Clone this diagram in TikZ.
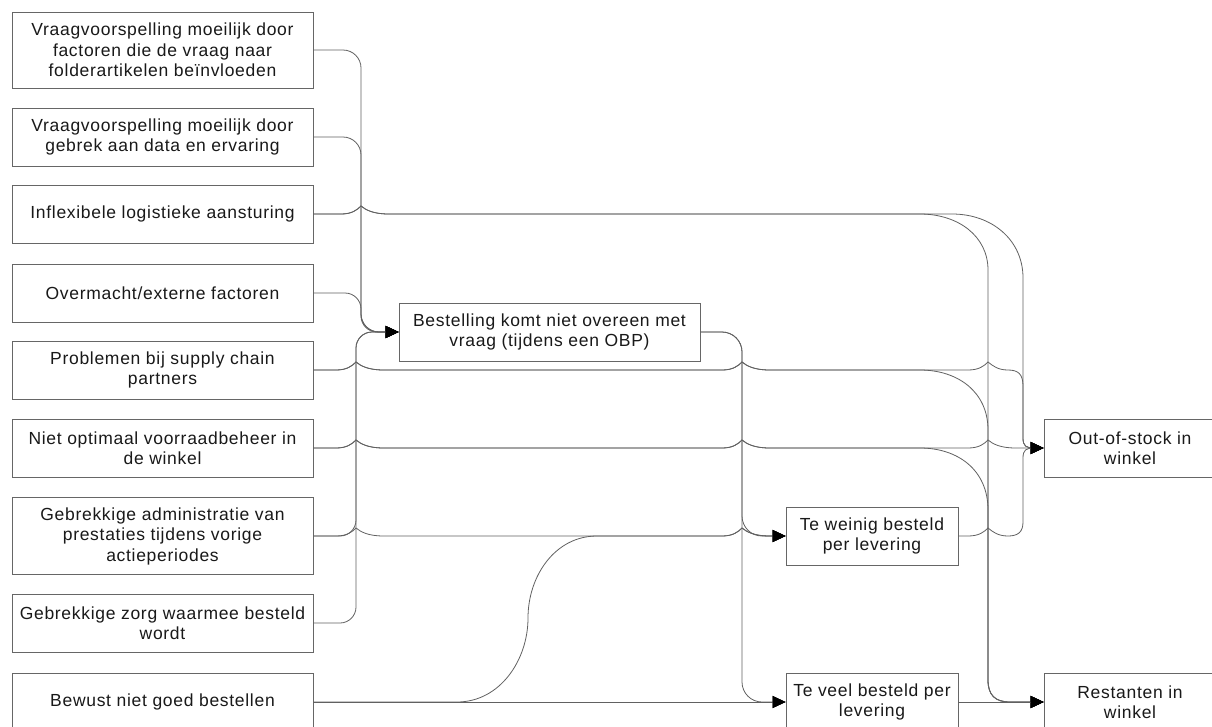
\documentclass[tikz,border=0pt]{standalone}
\usepackage{fontspec}
\setmainfont{Liberation Sans}[LetterSpace=4]
\usetikzlibrary{arrows.meta}
\begin{document}
\begin{tikzpicture}[x=1pt,y=-1pt,
  box/.style={draw=black!60, line width=0.8pt, fill=white, inner sep=0pt,
    align=center, text=black!90, font=\fontsize{17.5}{20.5}\selectfont,
    minimum height=58pt},
  cause/.style={box, minimum width=301pt},
  effect/.style={box, minimum width=172pt},
  link/.style={draw=black!62, line width=0.8pt},
  tip/.style={-{Triangle[length=13pt,width=12pt,color=black]}},
  hop/.style 2 args={insert path={-- ({#1-20},#2)
     .. controls ({#1-9},#2) and ({#1-4},{#2-4}) .. (#1,{#2-8})
     .. controls ({#1+5},{#2-4}) and ({#1+12},#2) .. ({#1+28},#2)}}
]
\useasboundingbox (0,0) rectangle (1212,726);
\clip (0,0) rectangle (1212,726);
\fill[white] (0,0) rectangle (1212,726);

% causes on the left
\node[cause, minimum height=76pt] (b1) at (162.5,50)
  {Vraagvoorspelling moeilijk door\\factoren die de vraag naar\\folderartikelen beïnvloeden};
\node[cause] (b2) at (162.5,137) {Vraagvoorspelling moeilijk door\\gebrek aan data en ervaring};
\node[cause] (b3) at (162.5,214) {Inflexibele logistieke aansturing};
\node[cause] (b4) at (162.5,293) {Overmacht/externe factoren};
\node[cause] (b5) at (162.5,370) {Problemen bij supply chain\\partners};
\node[cause] (b6) at (162.5,448) {Niet optimaal voorraadbeheer in\\de winkel};
\node[cause, minimum height=77pt] (b7) at (162.5,536)
  {Gebrekkige administratie van\\prestaties tijdens vorige\\actieperiodes};
\node[cause] (b8) at (162.5,623) {Gebrekkige zorg waarmee besteld\\wordt};
\node[cause] (b9) at (162.5,702) {Bewust niet goed bestellen};

% intermediate and final effects
\node[cause] (best) at (549.5,332) {Bestelling komt niet overeen met\\vraag (tijdens een OBP)};
\node[effect] (weinig) at (872,536) {Te weinig besteld\\per levering};
\node[effect] (veel) at (872,702) {Te veel besteld per\\levering};
\node[effect] (out) at (1130,448) {Out-of-stock in\\winkel};
\node[effect] (rest) at (1130,702) {Restanten in\\winkel};

% into "Bestelling komt niet overeen met vraag"
\draw[link, tip, rounded corners=18pt] (b1.east) -| (361,332) -- (best.west);
\draw[link, tip, rounded corners=18pt] (b2.east) -| (361,332) -- (best.west);
\draw[link, tip, rounded corners=16pt] (b4.east) -| (361,332) -- (best.west);
\draw[link, tip, rounded corners=16pt] (b7.east) -| (356,332) -- (best.west);
\draw[link, tip, rounded corners=16pt] (b8.east) -| (356,332) -- (best.west);

% out of "Bestelling komt niet overeen met vraag"
\draw[link, tip, rounded corners=20pt] (best.east) -| (742,536) -- (weinig.west);
\draw[link, tip, rounded corners=20pt] (best.east) -| (742,702) -- (veel.west);

% Inflexibele logistieke aansturing
\draw[link, tip] (b3.east) [hop={361}{214}] -- (952,214)
  .. controls (992,214) and (1023,240) .. (1023,278) -- (1023,438)
  .. controls (1023,446) and (1026,448) .. (1034,448) -- (out.west);
\draw[link, tip] (b3.east) [hop={361}{214}] -- (920,214)
  .. controls (958,214) and (988,236) .. (988,270) -- (988,680)
  .. controls (988,695) and (995,702) .. (1010,702) -- (rest.west);

% Problemen bij supply chain partners
\draw[link, tip] (b5.east) [hop={356}{370}] [hop={742}{370}] -- (968,370)
  .. controls (979,370) and (984,366) .. (988,362)
  .. controls (993,366) and (998,370) .. (1008,370)
  .. controls (1018,370) and (1023,374) .. (1023,386) -- (1023,438)
  .. controls (1023,446) and (1026,448) .. (1034,448) -- (out.west);
\draw[link, tip] (b5.east) [hop={356}{370}] [hop={742}{370}] -- (920,370)
  .. controls (958,370) and (988,392) .. (988,430) -- (988,680)
  .. controls (988,695) and (995,702) .. (1010,702) -- (rest.west);

% Niet optimaal voorraadbeheer in de winkel
\draw[link, tip] (b6.east) [hop={356}{448}] [hop={742}{448}] [hop={988}{448}] -- (out.west);
\draw[link, tip] (b6.east) [hop={356}{448}] [hop={742}{448}] -- (920,448)
  .. controls (958,448) and (988,470) .. (988,510) -- (988,680)
  .. controls (988,695) and (995,702) .. (1010,702) -- (rest.west);

% Gebrekkige administratie van prestaties
\draw[link, tip] (b7.east) [hop={356}{536}] [hop={742}{536}] -- (weinig.west);

% Bewust niet goed bestellen
\draw[link, tip] (b9.east) -- (veel.west);
\draw[link, tip] (b9.east) -- (457,702)
  .. controls (500,702) and (528,660) .. (528,618)
  .. controls (528,576) and (555,536) .. (597,536) [hop={742}{536}] -- (weinig.west);

% onward to the store effects
\draw[link, tip] (weinig.east) -- (968,536)
  .. controls (979,536) and (984,532) .. (988,528)
  .. controls (993,532) and (998,536) .. (1008,536)
  .. controls (1018,536) and (1023,532) .. (1023,522) -- (1023,458)
  .. controls (1023,450) and (1026,448) .. (1034,448) -- (out.west);
\draw[link, tip] (veel.east) -- (rest.west);
\end{tikzpicture}
\end{document}
